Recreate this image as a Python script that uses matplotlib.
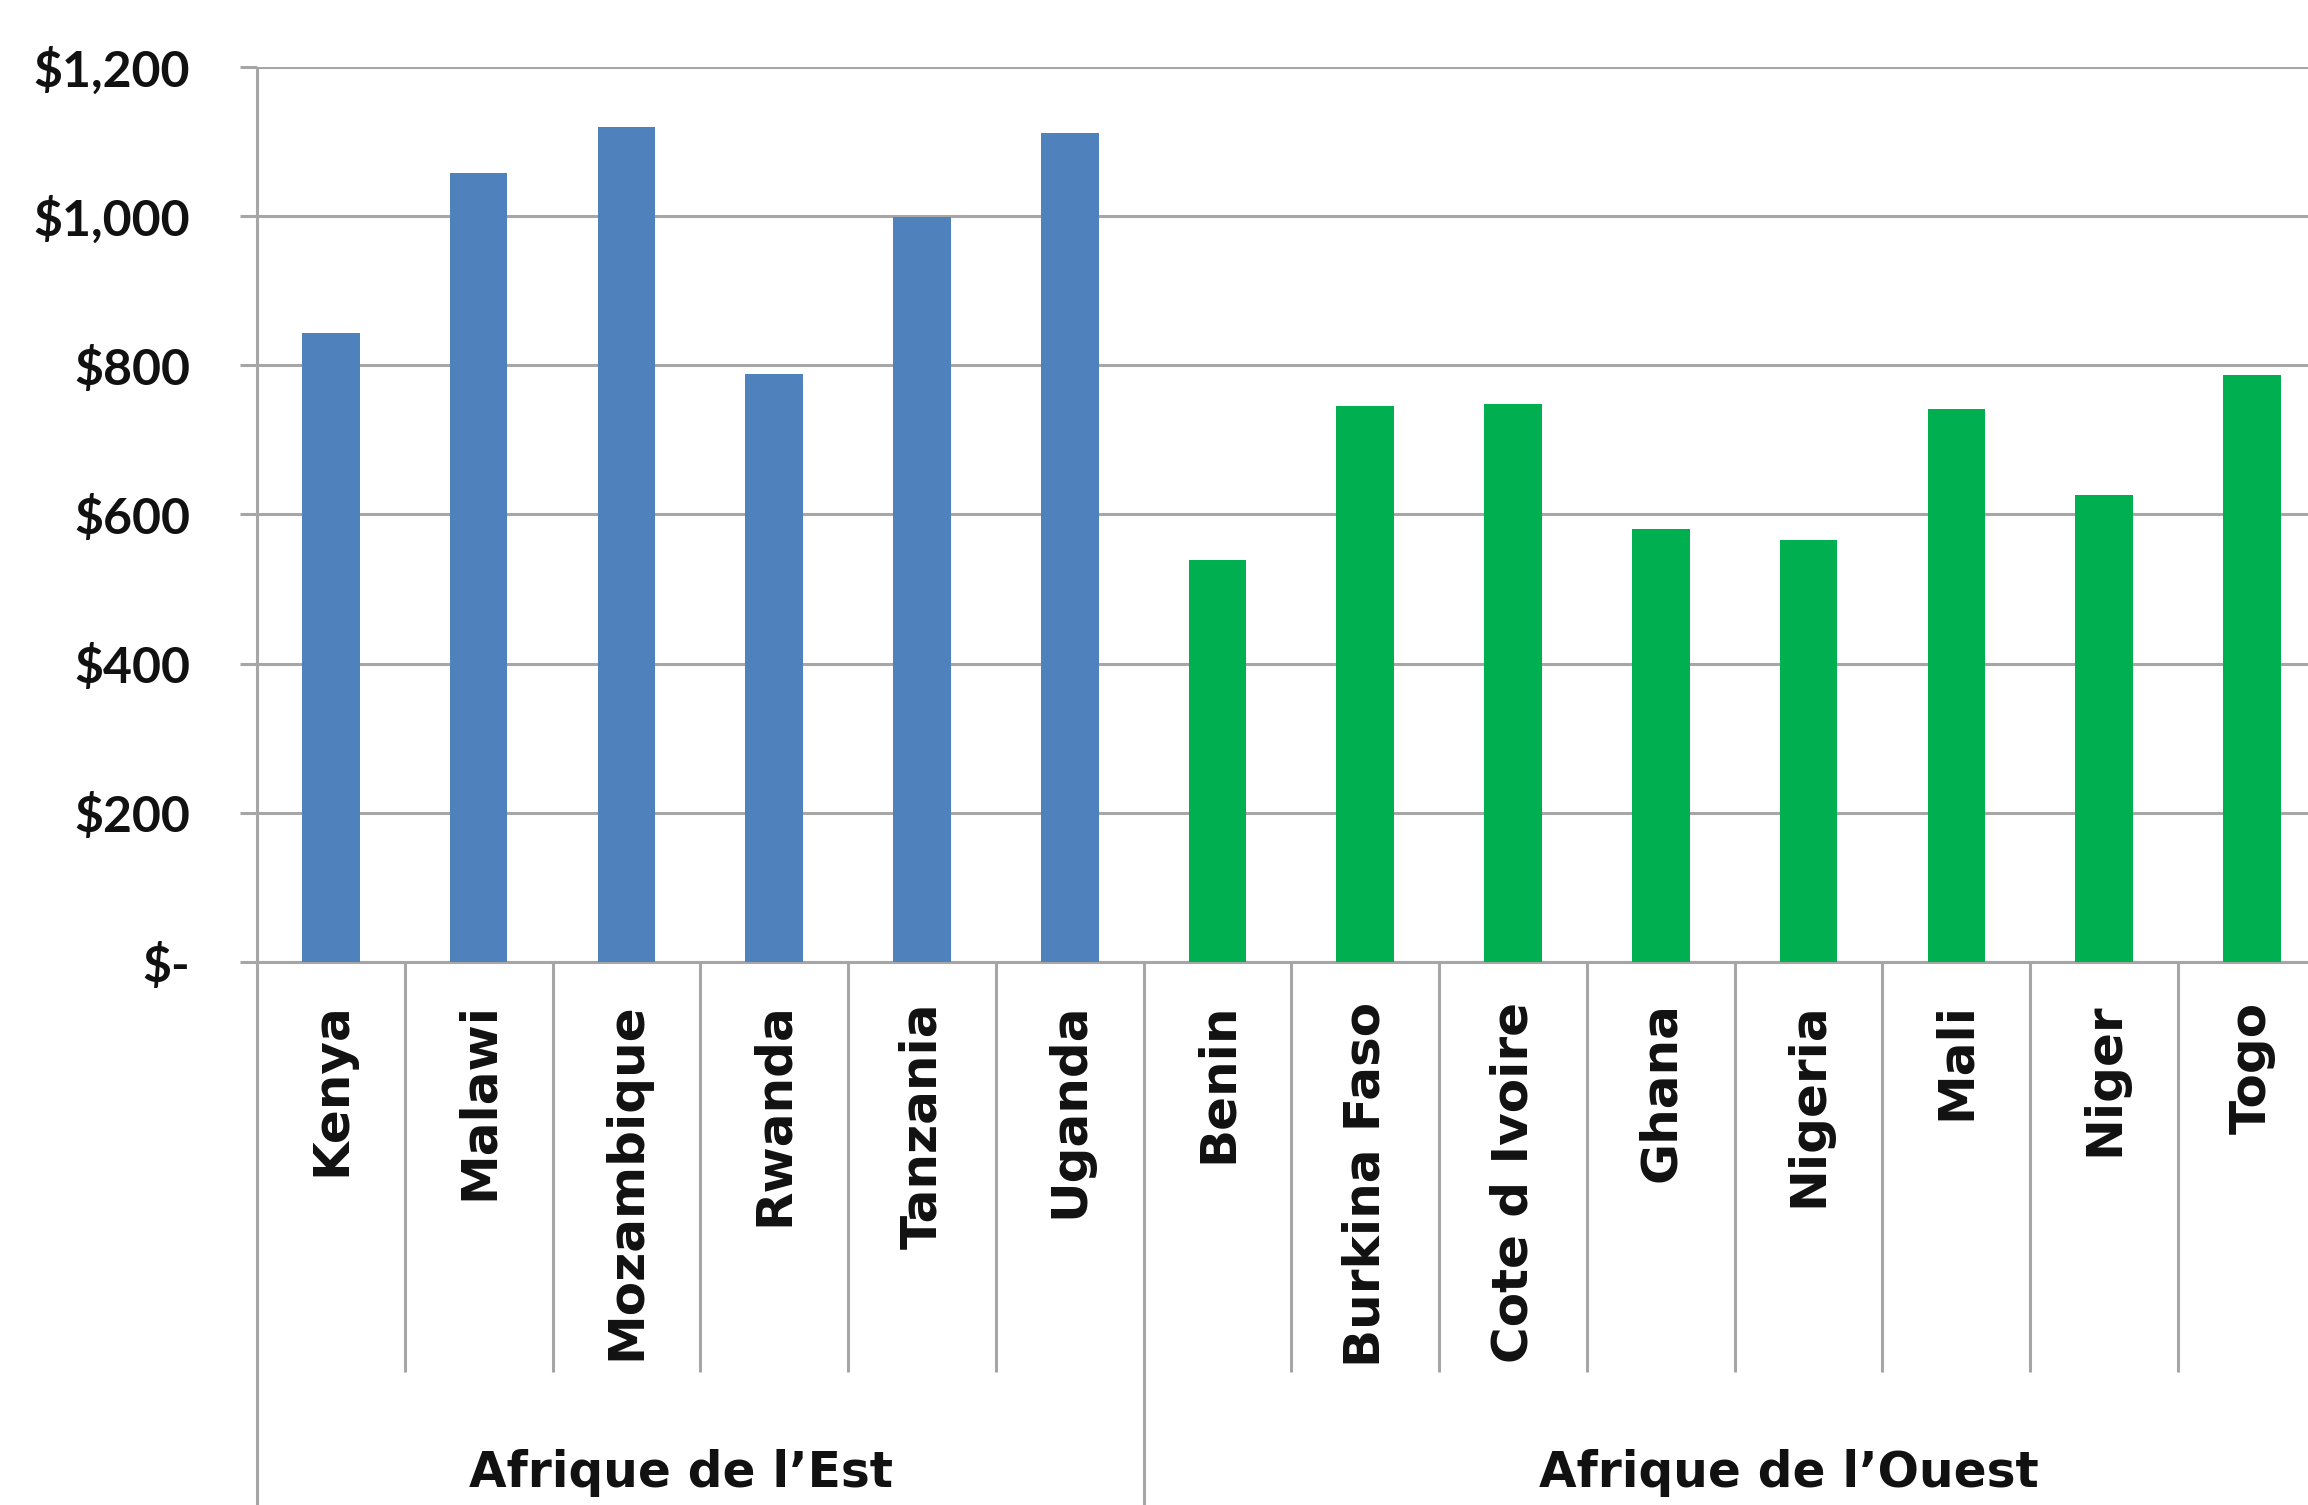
import matplotlib
matplotlib.use("Agg")
import matplotlib.pyplot as plt
import matplotlib.transforms as mtransforms

# ---- data ----
countries = ["Kenya", "Malawi", "Mozambique", "Rwanda", "Tanzania", "Uganda",
             "Benin", "Burkina Faso", "Cote d Ivoire", "Ghana", "Nigeria",
             "Mali", "Niger", "Togo"]
values = [843, 1058, 1119, 789, 999, 1111,
          539, 746, 748, 580, 566, 742, 626, 787]
groups = ["Afrique de l\u2019Est", "Afrique de l\u2019Ouest"]
group_sizes = [6, 8]
group_colors = ["#4F81BD", "#00B050"]
yticks = [0, 200, 400, 600, 800, 1000, 1200]
ytick_labels = ["$-", "$200", "$400", "$600", "$800", "$1,000", "$1,200"]

plt.rcParams['font.family'] = ['Lato', 'DejaVu Sans']
plt.rcParams['font.weight'] = 'bold'

W, H = 2308, 1505
fig = plt.figure(figsize=(W / 100, H / 100), dpi=100)
left_px, top_px, bottom_px = 257, 67, 962
ax = fig.add_axes([left_px / W, (H - bottom_px) / H, 1 - left_px / W, (bottom_px - top_px) / H])

grid_c = "#A6A6A6"
txt_c = "#111111"

colors = []
for c, n in zip(group_colors, group_sizes):
    colors += [c] * n
x = list(range(len(countries)))
ax.bar(x, values, width=0.39, color=colors, zorder=3)

ax.set_ylim(0, 1200)
ax.set_xlim(-0.5, 13.38)
ax.set_yticks(yticks)
ax.set_yticklabels(ytick_labels, fontsize=36, fontweight='bold', color=txt_c)
ax.yaxis.grid(True, color=grid_c, linewidth=2.2, zorder=0)
ax.tick_params(axis='y', length=12, width=2.2, color=grid_c, pad=36)

ax.set_xticks(x)
ax.set_xticklabels(countries, rotation=90, fontsize=36, fontweight='bold',
                   color=txt_c, va='top', family=['DejaVu Sans'])
ax.tick_params(axis='x', length=0, pad=29)

for s in ["top", "right"]:
    ax.spines[s].set_visible(False)
ax.spines["bottom"].set_color(grid_c)
ax.spines["bottom"].set_linewidth(2.2)
ax.spines["left"].set_visible(False)

trans = mtransforms.blended_transform_factory(ax.transData, ax.transAxes)
short_end = (bottom_px - 1372) / (bottom_px - top_px)
long_end = (bottom_px - H) / (bottom_px - top_px)

# left axis line, from the top of the plot to the bottom of the figure
ax.plot([-0.5, -0.5], [1, long_end], transform=trans, color=grid_c, lw=2.2,
        clip_on=False, zorder=2, solid_capstyle='butt')

# separators under the axis
boundaries = [0]
for n in group_sizes:
    boundaries.append(boundaries[-1] + n)
group_edges = set(boundaries)
for b in range(1, len(countries)):
    xb = b - 0.5
    end = long_end if b in group_edges else short_end
    ax.plot([xb, xb], [0, end], transform=trans, color=grid_c, lw=2.2,
            clip_on=False, zorder=2, solid_capstyle='butt')

# group labels (second group assumed to extend past the cropped edge)
group_centers = [2.5, 10.0]
label_y = (bottom_px - 1473) / (bottom_px - top_px)
for g, cx in zip(groups, group_centers):
    ax.text(cx - 0.13, label_y, g, transform=trans, ha='center', va='center',
            fontsize=35, fontweight='bold', color=txt_c, family=['DejaVu Sans'])

fig.savefig("out.png", dpi=100)
